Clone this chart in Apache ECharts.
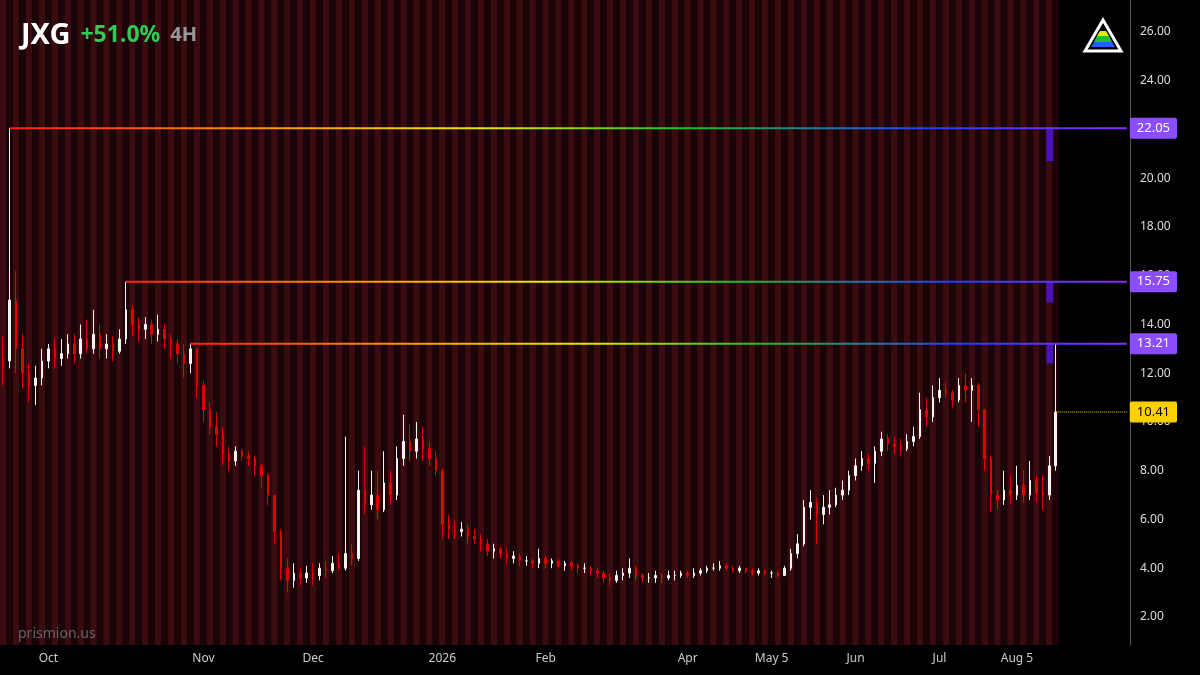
<!DOCTYPE html>
<html><head><meta charset="utf-8">
<script src="https://cdn.jsdelivr.net/npm/echarts@6/dist/echarts.min.js"></script>
<style>html,body{margin:0;background:#000}#c{width:1200px;height:675px}</style>
</head><body><div id="c"></div>
<script>
// candles: [open, close, low, high]
const candles = [
[12.6,12.2,11.5,13.5],[12.5,15.0,12.2,22.05],[15,13.0,12.0,16.2],[13.0,12.0,11.4,13.6],[12.0,11.5,10.8,12.4],
[11.5,11.8,10.7,12.3],[11.8,12.5,11.5,13.0],[12.5,13.0,12.2,13.2],[13.0,12.6,12.2,13.4],[12.6,12.8,12.3,13.4],
[12.8,13.2,12.6,13.6],[13.2,12.8,12.4,13.6],[12.8,13.4,12.6,14.0],[13.4,13.0,12.8,14.2],[13.0,13.6,12.8,14.6],
[13.6,13.0,12.6,14.0],[13.0,13.2,12.6,13.6],[13.2,12.9,12.5,13.5],[12.9,13.4,12.8,13.8],[13.4,14.6,13.2,15.75],
[14.6,14.0,13.5,14.8],[14.0,13.8,13.3,14.3],[13.8,14.0,13.4,14.3],[14.0,13.6,13.2,14.2],[13.6,13.8,13.3,14.4],
[13.8,13.4,13.0,14.0],[13.4,13.2,12.6,13.6],[13.2,12.8,12.4,13.4],[12.8,12.4,11.8,13.2],[12.4,13.0,12.0,13.21],
[13.0,11.5,11.0,13.0],[11.5,10.5,10.0,11.7],[10.5,9.8,9.5,10.8],[9.8,9.5,9.0,10.4],[9.5,8.7,8.2,9.8],
[8.7,8.4,8.0,9.0],[8.4,8.8,8.2,9.0],[8.8,8.6,8.4,8.9],[8.6,8.5,8.2,8.8],[8.5,8.2,7.8,8.6],
[8.2,7.8,7.3,8.3],[7.8,7.0,6.6,7.9],[7.0,5.5,5.0,7.0],[5.5,4.0,3.5,5.6],[4.0,3.5,3.0,4.4],
[3.5,3.8,3.2,4.2],[3.8,3.6,3.3,4.0],[3.6,3.8,3.4,4.1],[3.8,3.7,3.3,4.2],[3.7,4.0,3.5,4.2],
[4.0,3.9,3.6,4.3],[3.9,4.2,3.8,4.5],[4.2,4.0,3.9,4.6],[4.0,4.6,3.9,9.4],[4.6,4.4,4.1,5.0],
[4.4,7.2,4.3,8.0],[7.2,6.6,6.2,9.0],[6.6,7.0,6.4,8.0],[7.0,6.4,6.0,8.0],[6.4,7.5,6.3,8.8],
[7.5,7.0,6.6,8.0],[7.0,8.5,6.8,9.0],[8.5,9.2,8.2,10.3],[9.2,8.8,8.4,9.9],[8.8,9.3,8.5,10.0],
[9.3,8.9,8.4,9.8],[8.9,8.5,8.2,9.2],[8.5,8.0,7.8,8.8],[8.0,5.8,5.2,8.1],[5.8,5.6,5.2,6.2],
[5.6,5.5,5.2,6.0],[5.5,5.6,5.3,5.9],[5.6,5.3,5.0,5.8],[5.3,5.2,5.0,5.6],[5.2,5.0,4.7,5.4],
[5.0,4.7,4.5,5.2],[4.7,4.8,4.4,5.0],[4.8,4.6,4.4,4.9],[4.6,4.4,4.2,4.8],[4.4,4.5,4.2,4.7],
[4.5,4.3,4.1,4.6],[4.3,4.3,4.1,4.5],[4.3,4.2,4.0,4.4],[4.2,4.4,4.0,4.8],[4.4,4.2,4.0,4.5],
[4.2,4.3,4.0,4.4],[4.3,4.1,4.0,4.4],[4.1,4.2,3.9,4.3],[4.2,4.1,3.9,4.3],[4.1,4.0,3.8,4.2],
[4.0,4.0,3.8,4.2],[4.0,3.9,3.7,4.1],[3.9,3.8,3.6,4.0],[3.8,3.6,3.4,3.9],[3.6,3.5,3.3,3.8],
[3.5,3.7,3.4,3.9],[3.7,3.8,3.5,4.0],[3.8,4.0,3.6,4.4],[4.0,3.7,3.5,4.1],[3.7,3.6,3.4,3.8],
[3.6,3.6,3.4,3.8],[3.6,3.7,3.4,3.9],[3.7,3.6,3.4,3.8],[3.6,3.7,3.5,3.9],[3.7,3.7,3.5,3.9],
[3.7,3.8,3.6,3.9],[3.8,3.7,3.6,3.9],[3.7,3.8,3.6,4.0],[3.8,3.9,3.7,4.0],[3.9,4.0,3.8,4.1],
[4.0,4.0,3.9,4.2],[4.0,4.1,3.9,4.3],[4.1,4.0,3.9,4.2],[4.0,3.9,3.8,4.1],[3.9,4.0,3.8,4.1],
[4.0,3.9,3.8,4.0],[3.9,3.8,3.7,4.0],[3.8,3.9,3.7,4.0],[3.9,3.8,3.7,3.9],[3.8,3.8,3.6,3.9],
[3.8,3.7,3.6,3.9],[3.7,4.0,3.7,4.1],[4.0,4.6,3.9,4.8],[4.6,5.0,4.4,5.4],[5.0,6.5,4.9,6.8],
[6.5,6.7,6.0,7.2],[6.7,6.2,5.0,6.9],[6.2,6.5,5.8,7.0],[6.5,6.6,6.2,7.2],[6.6,7.0,6.5,7.3],
[7.0,7.2,6.8,7.6],[7.2,7.8,7.0,8.0],[7.8,8.2,7.6,8.5],[8.2,8.5,8.0,8.8],[8.5,8.3,8.0,8.7],
[8.3,8.8,7.5,9.0],[8.8,9.3,8.6,9.6],[9.3,9.1,8.8,9.5],[9.1,9.0,8.7,9.4],[9.0,8.9,8.6,9.3],
[8.9,9.2,8.8,9.5],[9.2,9.4,9.0,9.8],[9.4,10.5,9.3,11.2],[10.5,10.2,9.8,11.0],[10.2,11.0,10.0,11.5],
[11.0,11.3,10.8,11.8],[11.3,11.2,11.0,11.6],[11.2,10.9,10.6,11.3],[10.9,11.5,10.8,11.8],[11.5,11.3,10.8,12.0],
[11.3,11.5,10.0,11.8],[11.5,10.5,9.8,11.6],[10.5,8.5,8.0,10.5],[8.5,7.0,6.3,8.6],[7.0,6.8,6.4,7.2],
[6.8,7.2,6.6,8.0],[7.2,7.0,6.6,7.8],[7.0,7.4,6.8,8.2],[7.4,7.0,6.7,8.0],[7.0,7.6,6.8,8.4],
[7.6,7.1,6.7,7.8],[7.1,7.0,6.4,7.8],[7.0,8.2,6.8,8.6],[8.2,10.41,8.0,13.2]
];
const totalSlots = 175;
const dateLabels = {7:'Oct',31:'Nov',48:'Dec',68:'2026',84:'Feb',106:'Apr',119:'May 5',132:'Jun',145:'Jul',157:'Aug 5'};
const levels = [22.05, 15.75, 13.21];
const levelStart = [1, 19, 29];
const levelBarBottom = [20.7, 14.9, 12.4];
const lastPrice = 10.41;
const yTicks = [2,4,6,8,10,12,14,16,18,20,22,24,26];

const cats = [];
for (let i = 0; i < totalSlots; i++) cats.push(dateLabels[i] || '');
const n = candles.length;
const stripeBase = [], stripeTop = [];
for (let i = 0; i < totalSlots; i++) {
  stripeBase.push(i < n ? 0.85 : null);
  stripeTop.push(i < n ? {value: 26.5, itemStyle: {color: i % 2 ? '#1a0407' : '#3a0c10'}} : null);
}
const rainbow = {type:'linear',x:0,y:0,x2:1,y2:0,colorStops:[
  {offset:0,color:'#ff1a1a'},{offset:0.2,color:'#ff8800'},{offset:0.42,color:'#e8e800'},
  {offset:0.6,color:'#22c022'},{offset:0.82,color:'#2040ff'},{offset:1,color:'#8a2cff'}]};
const levelSeries = levels.map((lv, k) => {
  const d = [];
  for (let i = 0; i < totalSlots; i++) d.push(i >= levelStart[k] ? lv : null);
  return {type:'line', data:d, symbol:'none', silent:true, z:5,
    lineStyle:{width:2, color:rainbow},
    endLabel:{show:true, formatter:lv.toFixed(2), color:'#fff', backgroundColor:'#8b4dff',
      padding:[4,7], borderRadius:2, fontSize:13, fontFamily:'Noto Sans', distance:3}};
});
const priceLine = [];
for (let i = 0; i < totalSlots; i++) priceLine.push(i >= n - 1 ? lastPrice : null);

const chart = echarts.init(document.getElementById('c'));
chart.setOption({
  backgroundColor:'#000',
  animation:false,
  title:{left:16, top:16, text:'{a|JXG}  {b|+51.0%}  {c|4H}',
    textStyle:{rich:{
      a:{color:'#fff',fontSize:29,fontWeight:'bold',fontFamily:'Noto Sans'},
      b:{color:'#2ecc55',fontSize:23,fontWeight:'bold',fontFamily:'Noto Sans'},
      c:{color:'#999',fontSize:20,fontWeight:'bold',fontFamily:'Noto Sans'}}}},
  grid:{left:0, right:70, top:0, bottom:30},
  xAxis:{type:'category', data:cats, boundaryGap:true,
    axisLine:{show:false}, axisTick:{show:false}, splitLine:{show:false},
    axisLabel:{interval:0, color:'#ccc', fontSize:12, fontFamily:'Noto Sans', margin:8}},
  yAxis:{type:'value', position:'right', min:0.85, max:27.31,
    axisLine:{show:true, lineStyle:{color:'#555'}}, axisTick:{show:false}, splitLine:{show:false},
    axisLabel:{customValues:yTicks, color:'#ddd', fontSize:12, fontFamily:'Noto Sans', margin:10,
      formatter:v => Number(v).toFixed(2)}},
  series:[
    {type:'bar', stack:'s', data:stripeBase, itemStyle:{color:'transparent'}, barWidth:'100%', silent:true, z:1},
    {type:'bar', stack:'s', data:stripeTop, barWidth:'100%', silent:true, z:1},
    {type:'candlestick', data:candles, barWidth:2, z:3,
      itemStyle:{color:'#f2f2f2', color0:'#e00000', borderColor:'#f2f2f2', borderColor0:'#e00000', borderWidth:1}},
    ...levelSeries,
    {type:'line', data:priceLine, symbol:'none', silent:true, z:4,
      lineStyle:{color:'#ffd000', width:1, type:'dotted'},
      endLabel:{show:true, formatter:lastPrice.toFixed(2), color:'#000', backgroundColor:'#ffd000',
        padding:[4,7], borderRadius:2, fontSize:13, fontFamily:'Noto Sans', distance:3}},
    {type:'custom', z:4, silent:true, data:levels.map((lv,k)=>[n-2, lv, levelBarBottom[k]]),
      renderItem:(p, api) => {
        const a = api.coord([api.value(0), api.value(1)]);
        const b = api.coord([api.value(0), api.value(2)]);
        return {type:'rect', shape:{x:a[0]-3, y:a[1], width:7, height:b[1]-a[1]}, style:{fill:'#4a12b8'}};
      }}
  ],
  graphic:[
    {type:'text', left:18, top:627, z:100, style:{text:'prismion.us', fill:'#666', fontSize:14, fontFamily:'Noto Sans'}},
    {type:'polygon', z:100, shape:{points:[[1103,20],[1085,51],[1121,51]]}, style:{fill:'none', stroke:'#fff', lineWidth:3}},
    {type:'polygon', z:100, shape:{points:[[1097,36],[1109,36],[1112,42],[1094,42]]}, style:{fill:'#22c022'}},
    {type:'polygon', z:100, shape:{points:[[1094,42],[1112,42],[1115,47],[1091,47]]}, style:{fill:'#2060ff'}},
    {type:'polygon', z:100, shape:{points:[[1100,31],[1106,31],[1109,36],[1097,36]]}, style:{fill:'#e8e800'}}
  ]
});
</script></body></html>
